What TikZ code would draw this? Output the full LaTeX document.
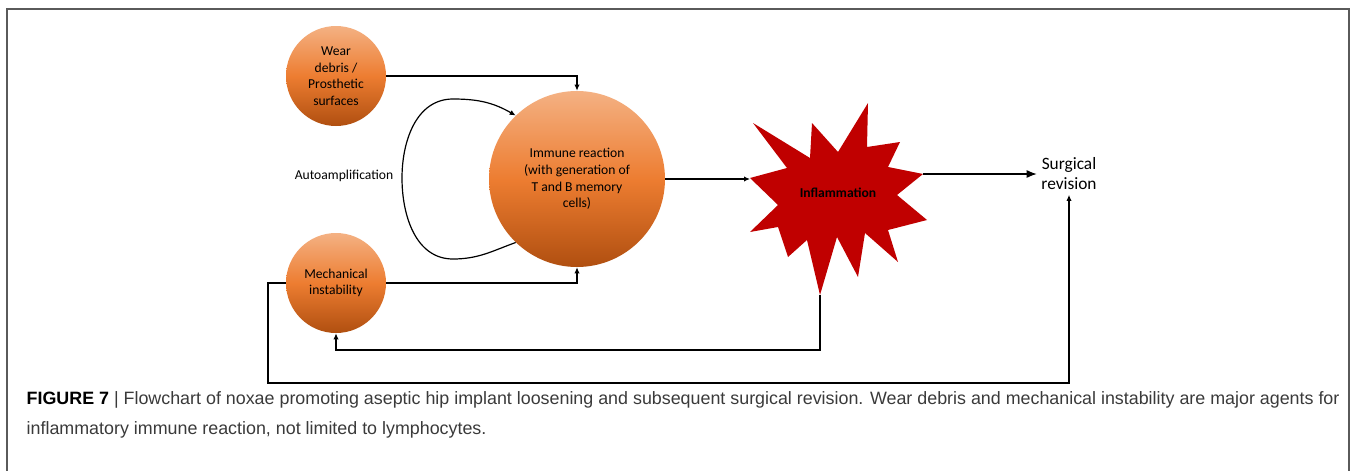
\documentclass[tikz,border=0pt]{standalone}
\usepackage{fontspec}
\setmainfont{Carlito}
\newfontfamily\capfont{Liberation Sans}
\usetikzlibrary{arrows.meta,positioning,calc}
\definecolor{orTop}{HTML}{F4B183}
\definecolor{orMid}{HTML}{ED7D31}
\definecolor{orBot}{HTML}{B04F10}
\definecolor{inflRed}{HTML}{C00000}
\definecolor{frameGrey}{HTML}{5A5A5A}
\definecolor{capGrey}{HTML}{3A3A3A}

\begin{document}
\begin{tikzpicture}[x=0.75pt,y=0.75pt,font=\fontsize{10.2}{12.4}\selectfont,
  blob/.style={circle,inner sep=0pt,align=center,top color=orTop,bottom color=orBot,middle color=orMid},
  ar/.style={-{Latex[length=4.5pt,width=4pt]},line width=0.9pt},
  bigar/.style={-{Latex[length=7.5pt,width=6pt]},line width=0.9pt}]
  \useasboundingbox (0,0) rectangle (1357,-471);
  % outer frame
  \draw[frameGrey,line width=1.2pt] (7,-471) -- (7,-9) -- (1349,-9) -- (1349,-471);
  % noxae and reaction
  \node[blob,minimum size=75pt]  (wear) at (336,-76)  {Wear\\ debris /\\ Prosthetic\\ surfaces};
  \node[blob,minimum size=132pt] (imm)  at (577,-179) {Immune reaction\\ (with generation of\\ T and B memory\\ cells)};
  \node[blob,minimum size=75pt]  (mech) at (336,-283) {Mechanical\\ instability};
  \node (auto) at (344,-176) {Autoamplification};
  % inflammation star
  \fill[inflRed] (868,-103) -- (867,-147) -- (900,-142) -- (888,-167) -- (923,-174) -- (897,-195)
    -- (927,-220) -- (888,-230) -- (898,-262) -- (865,-233) -- (858,-277) -- (837,-237)
    -- (820,-295) -- (807,-240) -- (788,-257) -- (778,-227) -- (750,-232) -- (778,-205)
    -- (750,-178) -- (787,-168) -- (753,-123) -- (810,-158) -- (812,-123) -- (838,-152) -- cycle;
  \node[font=\fontsize{10.2}{12}\selectfont\bfseries] (infl) at (838,-193) {Inflammation};
  \coordinate (inflL) at (750,-179);
  \coordinate (inflR) at (923,-174);
  \coordinate (inflB) at (820,-295);
  \node[font=\fontsize{13}{15}\selectfont,align=center] (rev) at (1069,-174) {Surgical\\ revision};
  % connectors
  \draw[ar] (wear.east) -| (imm.north);
  \draw[ar] (mech.east) -| (imm.south);
  \draw[ar] (imm.226) to[out=200,in=0] (453,-259) to[out=180,in=-90] (402,-178)
    to[out=90,in=180] (453,-99) to[out=0,in=150] (imm.134);
  \draw[ar] (imm.east) -- (inflL);
  \draw[bigar] (inflR) -- (rev.west |- inflR);
  \draw[ar] (inflB) |- (336,-350) -- (mech.south);
  \draw[ar] (mech.west) -- (268,-283) |- (1069,-383) -- (rev.south);
  % caption
  \node[anchor=base west,align=left,font=\capfont\fontsize{13.4}{22.5}\selectfont,text=capGrey] (cap) at (22,-434)
    {{\bfseries\color{black}FIGURE 7} | Flowchart of noxae promoting aseptic hip implant loosening and subsequent surgical revision. Wear debris and mechanical instability are major agents for\\
     inflammatory immune reaction, not limited to lymphocytes.};
\end{tikzpicture}
\end{document}
